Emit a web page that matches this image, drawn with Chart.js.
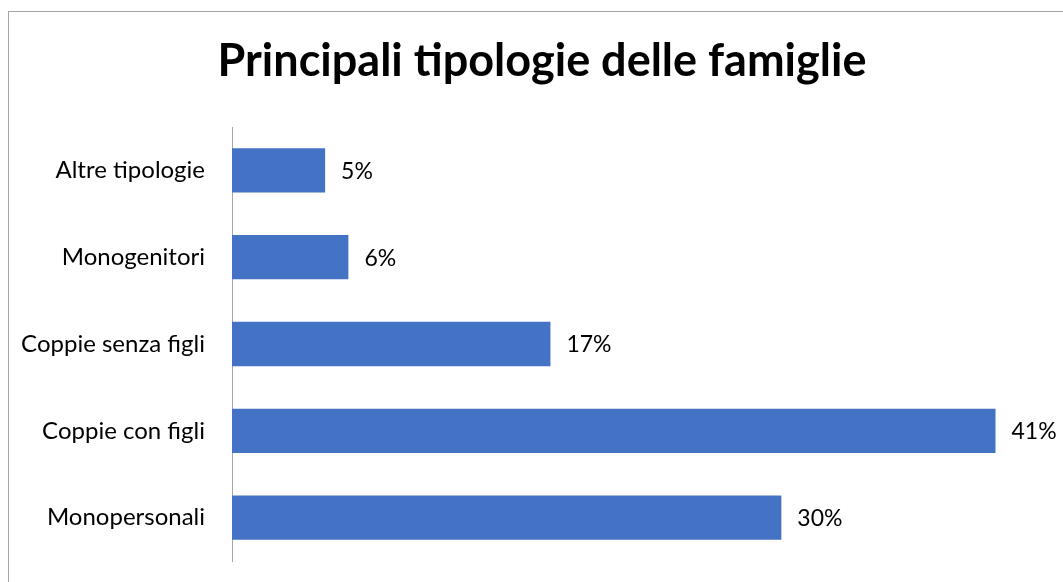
<!DOCTYPE html>
<html>
<head>
<meta charset="utf-8">
<script src="https://cdn.jsdelivr.net/npm/chart.js@4"></script>
<style>
    html, body { margin: 0; padding: 0; background: #fff; overflow: hidden; }
    #wrap { position: relative; width: 1063px; height: 582px; overflow: hidden; }
    #frame {
        position: absolute; left: 8px; top: 11px; width: 1200px; height: 700px;
        border: 1.5px solid #a6a6a6; box-sizing: border-box;
    }
    #famChart { position: absolute; left: 0; top: 0; }
</style>
</head>
<body>
<div id="wrap">
    <div id="frame"></div>
    <!-- the chart frame runs past the right edge of the picture, so the canvas does too -->
    <canvas id="famChart" width="1084" height="582"></canvas>
</div>
<script>
const titleText = 'Principali tipologie delle famiglie';
const categories = ['Altre tipologie', 'Monogenitori', 'Coppie senza figli', 'Coppie con figli', 'Monopersonali'];
const shares = [5.0, 6.25, 17.1, 41.0, 29.5];

const FONT = 'Lato';

// draws the "xx%" value next to each bar end
const valueLabels = {
    id: 'valueLabels',
    afterDatasetsDraw(chart) {
        const ctx = chart.ctx;
        const meta = chart.getDatasetMeta(0);
        ctx.save();
        ctx.font = '23px ' + FONT;
        ctx.fillStyle = '#000';
        ctx.textAlign = 'left';
        ctx.textBaseline = 'middle';
        meta.data.forEach((bar, i) => {
            ctx.fillText(Math.round(shares[i]) + '%', bar.x + 16, bar.y + 1);
        });
        ctx.restore();
    }
};

new Chart(document.getElementById('famChart'), {
    type: 'bar',
    data: {
        labels: categories,
        datasets: [{
            data: shares,
            backgroundColor: '#4472C4',
            borderWidth: 0,
            categoryPercentage: 1,
            barPercentage: 0.51
        }]
    },
    options: {
        indexAxis: 'y',
        responsive: false,
        animation: false,
        layout: { padding: { left: 14, right: 14, top: 0, bottom: 21 } },
        plugins: {
            legend: { display: false },
            tooltip: { enabled: false },
            title: {
                display: true,
                text: titleText,
                color: '#000',
                font: { family: FONT, size: 45, weight: 'bold' },
                padding: { top: 34, bottom: 39 }
            }
        },
        scales: {
            x: {
                display: false,
                min: 0,
                max: 45
            },
            y: {
                afterFit(scale) { scale.width = 218; },
                grid: {
                    drawOnChartArea: false,
                    drawTicks: true,
                    tickLength: 27,
                    tickColor: 'rgba(0,0,0,0)'
                },
                border: { display: true, color: '#a6a6a6', width: 1 },
                ticks: {
                    padding: 0,
                    color: '#000',
                    font: { family: FONT, size: 24 }
                }
            }
        }
    },
    plugins: [valueLabels]
});
</script>
</body>
</html>
